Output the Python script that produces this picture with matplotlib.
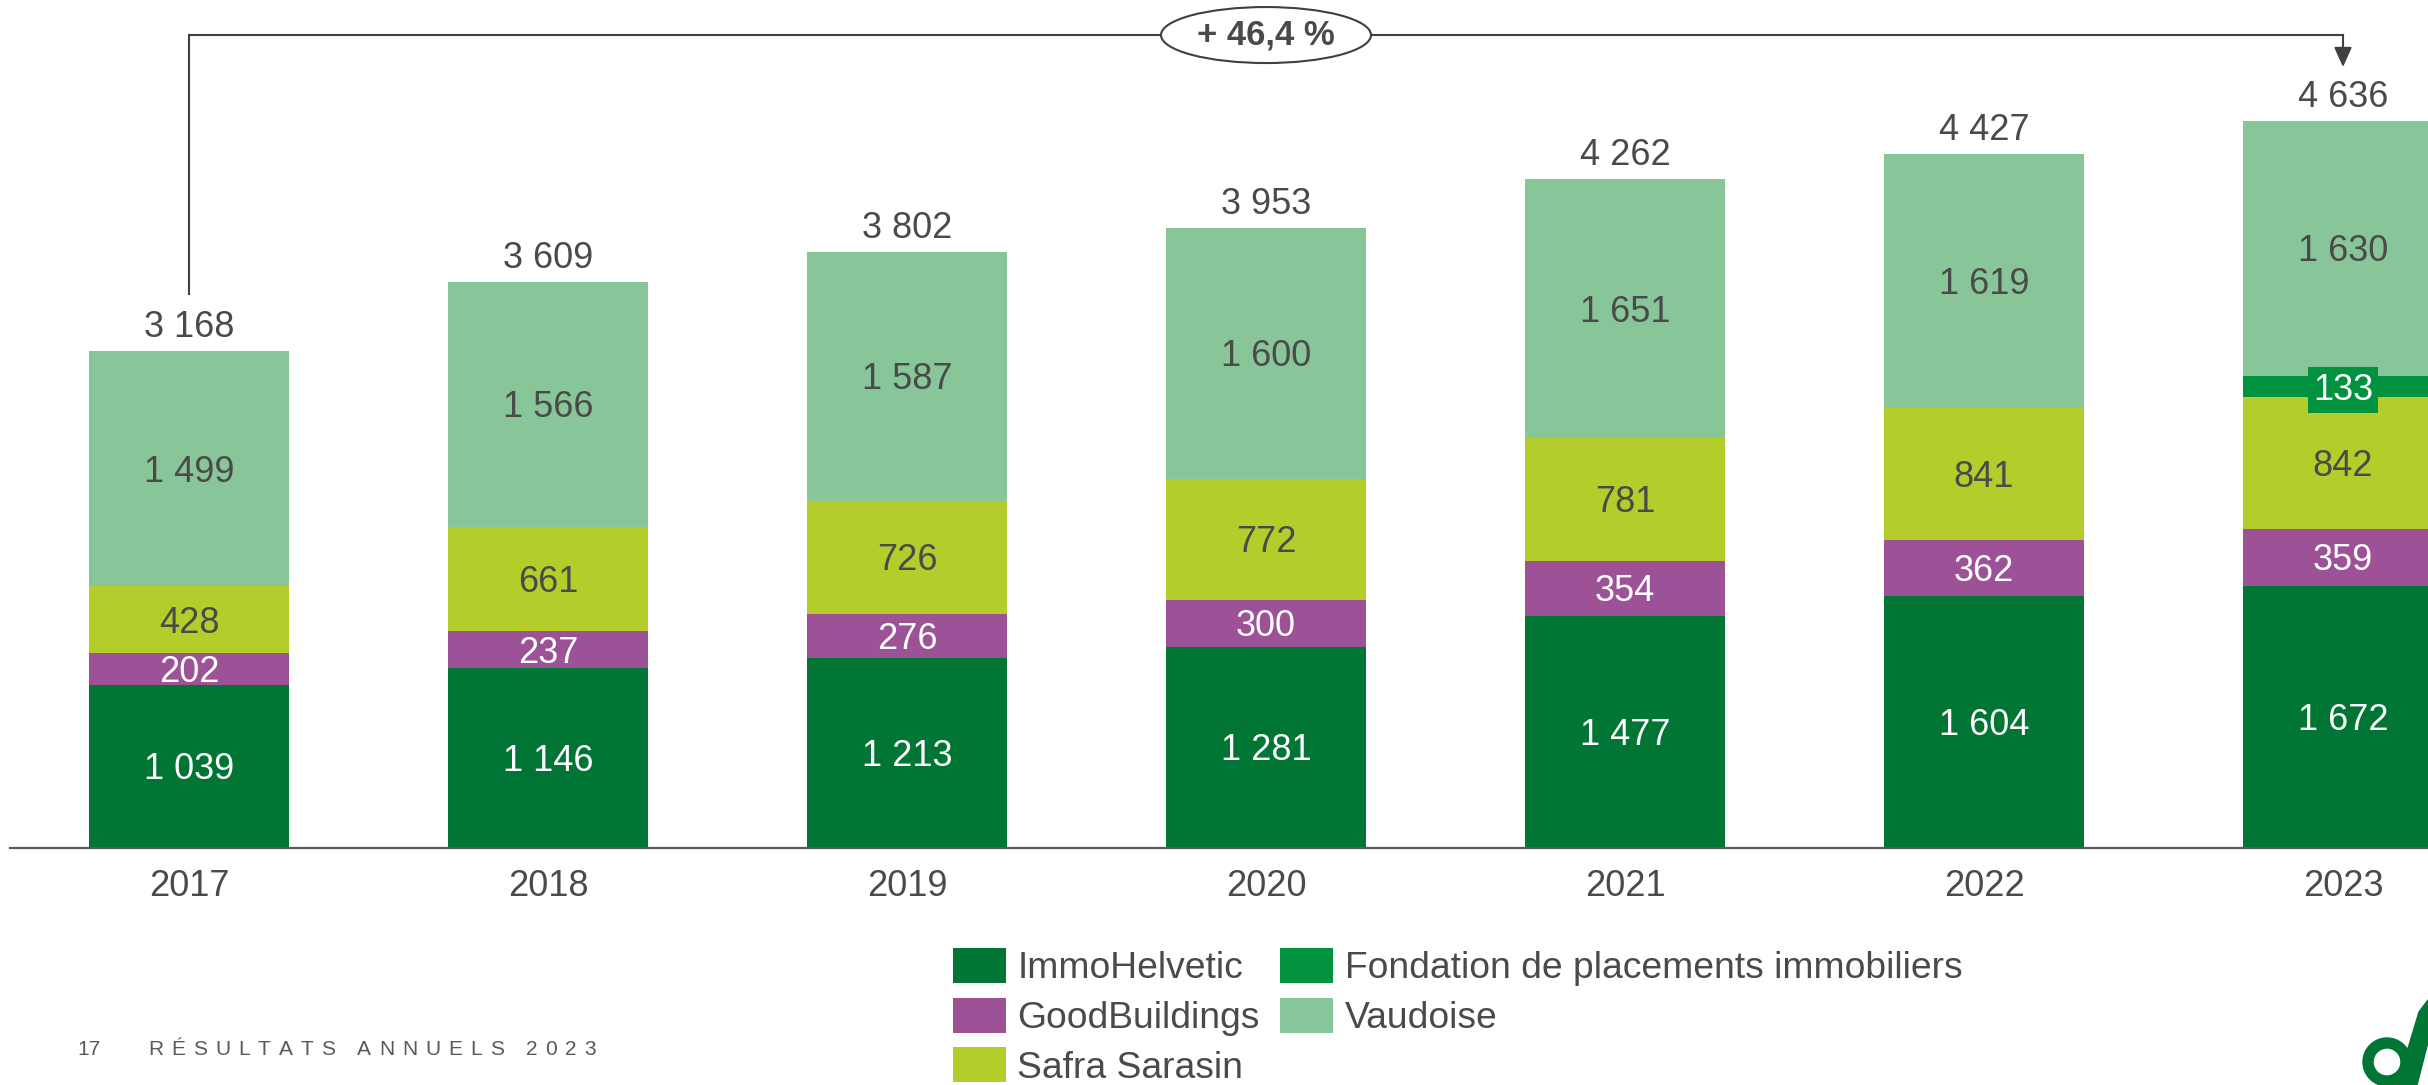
import matplotlib
matplotlib.use("Agg")
import matplotlib.pyplot as plt
from matplotlib.patches import Ellipse, Patch, Annulus, Polygon
import numpy as np

plt.rcParams['font.family'] = ['Liberation Sans', 'DejaVu Sans']

# ---------------- data ----------------
years = ["2017", "2018", "2019", "2020", "2021", "2022", "2023"]
immohelvetic = [1039, 1146, 1213, 1281, 1477, 1604, 1672]
goodbuildings = [202, 237, 276, 300, 354, 362, 359]
safra_sarasin = [428, 661, 726, 772, 781, 841, 842]
fondation = [0, 0, 0, 0, 0, 0, 133]
vaudoise = [1499, 1566, 1587, 1600, 1651, 1619, 1630]
totals = [3168, 3609, 3802, 3953, 4262, 4427, 4636]
series_names = ["ImmoHelvetic", "GoodBuildings", "Safra Sarasin",
                "Fondation de placements immobiliers", "Vaudoise"]
growth_label = "+ 46,4 %"
footer_page = "17"
footer_title = "RÉSULTATS ANNUELS 2023"

# ---------------- style ----------------
colors = ["#007534", "#9d5197", "#b5cd2a", "#00923f", "#88c599"]
label_colors = ["white", "white", "#4a4a4a", "white", "#4a4a4a"]
dark = "#4a4a4a"
W, H = 2428, 1085
fig = plt.figure(figsize=(W / 100, H / 100), dpi=100)

base_px = 848
ax = fig.add_axes([10 / W, 1 - base_px / H, (W - 10) / W, base_px / H])
step_px = 359
c0_px = 189
ax.set_xlim((10 - c0_px) / step_px, (W - c0_px) / step_px)
px_per_unit = 497 / 3168
ax.set_ylim(0, base_px / px_per_unit)

FS = 26
cap_half_pt = 0.716 * FS / 2

x = np.arange(len(years))
bw = 200 / step_px
series = [immohelvetic, goodbuildings, safra_sarasin, fondation, vaudoise]
bottom = np.zeros(len(years))
for vals, col, lcol in zip(series, colors, label_colors):
    vals = np.array(vals, dtype=float)
    ax.bar(x, vals, bw, bottom=bottom, color=col, edgecolor='none', zorder=2)
    for xi, v, b in zip(x, vals, bottom):
        if v <= 0:
            continue
        txt = f"{int(v):,}".replace(",", " ")
        kw = {}
        if v < 150 and col == colors[3]:
            kw['bbox'] = dict(boxstyle='square,pad=0.15', fc=col, ec='none')
        ax.annotate(txt, (xi, b + v / 2), xytext=(0, -cap_half_pt),
                    textcoords='offset points', ha='center', va='baseline',
                    fontsize=FS, color=lcol, zorder=4, **kw)
    bottom += vals

for xi, t in zip(x, totals):
    ax.annotate(f"{t:,}".replace(",", " "), (xi, t), xytext=(0, 10),
                textcoords='offset points', ha='center', va='baseline',
                fontsize=FS, color=dark, annotation_clip=False)

for s in ['top', 'right', 'left']:
    ax.spines[s].set_visible(False)
ax.spines['bottom'].set_color('#595959')
ax.spines['bottom'].set_linewidth(1.6)
ax.set_yticks([])
ax.set_xticks(x)
ax.set_xticklabels(years, fontsize=FS, color=dark)
ax.tick_params(axis='x', length=0, pad=15)

# ---------------- growth bracket ----------------
y_br = max(totals) + 546
y_left = totals[0] + 363
y_tip = totals[-1] + 342
lc = "#404040"
ax.plot([x[0], x[0], x[-1]], [y_left, y_br, y_br], color=lc, lw=1.5,
        clip_on=False, zorder=1, solid_joinstyle='miter')
ax.annotate('', xy=(x[-1], y_tip), xytext=(x[-1], y_br),
            arrowprops=dict(arrowstyle='-|>,head_length=0.6,head_width=0.27',
                            color=lc, lw=1.5, mutation_scale=20,
                            shrinkA=0, shrinkB=0), annotation_clip=False)
xm = (x[0] + x[-1]) / 2
ell = Ellipse((xm, y_br), width=210 / step_px, height=56 / px_per_unit,
              facecolor='white', edgecolor=lc, lw=1.5, clip_on=False, zorder=5)
ax.add_patch(ell)
ax.text(xm, y_br, growth_label, ha='center', va='center', fontsize=25,
        fontweight='bold', color=dark, zorder=6, clip_on=False)

# ---------------- legend ----------------
handles = [Patch(facecolor=c, edgecolor='none') for c in colors]
fig.legend(handles, series_names, ncol=2, loc='upper left',
           bbox_to_anchor=(953 / W, 1 - 948 / H), frameon=False,
           fontsize=26.8, labelcolor=dark, handlelength=1.43, handleheight=1.07,
           handletextpad=0.3, columnspacing=0.55, labelspacing=0.31,
           borderpad=0, borderaxespad=0)

# ---------------- footer (letter-spaced) ----------------
renderer = fig.canvas.get_renderer()
foot_fs = 15
foot_col = '#595959'
y_foot = 1 - 1055 / H
fig.text(77 / W, y_foot, footer_page, fontsize=foot_fs, color=foot_col,
         va='baseline', ha='left')
track = 8.0
space_px = 0.278 * foot_fs * 100 / 72
xp = 148.0
for ch in footer_title:
    if ch == " ":
        xp += space_px + track
        continue
    t = fig.text(xp / W, y_foot, ch, fontsize=foot_fs, color=foot_col,
                 va='baseline', ha='left')
    xp += t.get_window_extent(renderer).width + track

# ---------------- logo ----------------
lax = fig.add_axes([2340 / W, 0, (W - 2340) / W, 100 / H])
lax.set_xlim(2340, W)
lax.set_ylim(H, H - 100)
lax.axis('off')
lax.add_patch(Annulus((2387, 1062), 24, 10, color='#007534'))
lax.add_patch(Polygon([(2397, 1085), (2417, 1085), (2428, 1042), (2428, 1000),
                       (2419, 1012)], closed=True, color='#007534'))

fig.savefig("out.png", dpi=100)
